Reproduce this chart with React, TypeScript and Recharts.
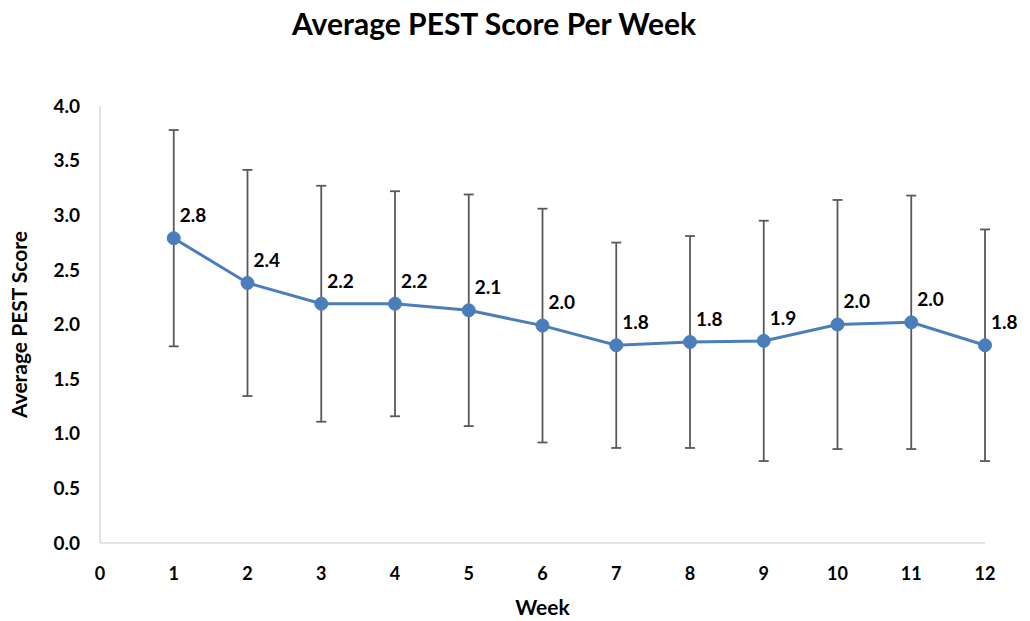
import { LineChart, Line, XAxis, YAxis, ErrorBar, LabelList } from "recharts";

const weeks = [1, 2, 3, 4, 5, 6, 7, 8, 9, 10, 11, 12];
const meanScores = [2.79, 2.38, 2.19, 2.19, 2.13, 1.99, 1.81, 1.84, 1.85, 2.0, 2.02, 1.81];
const sdScores = [0.99, 1.035, 1.08, 1.03, 1.06, 1.07, 0.94, 0.97, 1.1, 1.14, 1.16, 1.06];
const xTicks = [0, 1, 2, 3, 4, 5, 6, 7, 8, 9, 10, 11, 12];
const yTicks = [0, 0.5, 1, 1.5, 2, 2.5, 3, 3.5, 4];

const data = weeks.map((w, i) => ({ week: w, score: meanScores[i], sd: sdScores[i] }));

const FONT = "Lato, 'Open Sans', sans-serif";

const PointLabel = (props: any) => {
  const { x, y, value } = props;
  return (
    <text x={x + 6} y={y - 21} dominantBaseline="middle" fontSize={19} fontWeight={700} fill="#000" fontFamily={FONT}>
      {Number(value).toFixed(1)}
    </text>
  );
};

export default function App() {
  return (
    <div style={{ position: "absolute", left: 0, top: 0, width: 1030, height: 621, background: "#fff", fontFamily: FONT }}>
      <div style={{ position: "absolute", top: 5, left: 0, width: 988, textAlign: "center", fontSize: 30, fontWeight: 700 }}>
        Average PEST Score Per Week
      </div>
      <LineChart width={1030} height={621} data={data} margin={{ top: 106, right: 45, bottom: 28, left: 0 }}>
        <XAxis
          dataKey="week"
          type="number"
          domain={[0, 12]}
          ticks={xTicks}
          interval={0}
          height={50}
          tickLine={false}
          axisLine={{ stroke: "#d9d9d9", strokeWidth: 1.5 }}
          tick={{ fontSize: 18, fontWeight: 700, fill: "#000", fontFamily: FONT }}
          tickMargin={18}
          label={{ value: "Week", position: "insideBottom", offset: -22, fontSize: 21, fontWeight: 700, fill: "#000", fontFamily: FONT }}
        />
        <YAxis
          type="number"
          domain={[0, 4]}
          ticks={yTicks}
          interval={0}
          width={100}
          tickLine={false}
          axisLine={{ stroke: "#d9d9d9", strokeWidth: 1.5 }}
          tickFormatter={(v: number) => v.toFixed(1)}
          tick={{ fontSize: 19, fontWeight: 700, fill: "#000", fontFamily: FONT }}
          tickMargin={14}
          label={{ value: "Average PEST Score", angle: -90, position: "insideLeft", offset: 20, style: { textAnchor: "middle" }, fontSize: 21, fontWeight: 700, fill: "#000", fontFamily: FONT }}
        />
        <Line
          dataKey="score"
          stroke="#4a7ebb"
          strokeWidth={3}
          dot={{ r: 6.5, fill: "#4a7ebb", stroke: "#4a7ebb", strokeWidth: 1 }}
          isAnimationActive={false}
        >
          <ErrorBar dataKey="sd" direction="y" width={5} stroke="#595959" strokeWidth={1.8} />
          <LabelList dataKey="score" content={PointLabel} />
        </Line>
      </LineChart>
    </div>
  );
}
